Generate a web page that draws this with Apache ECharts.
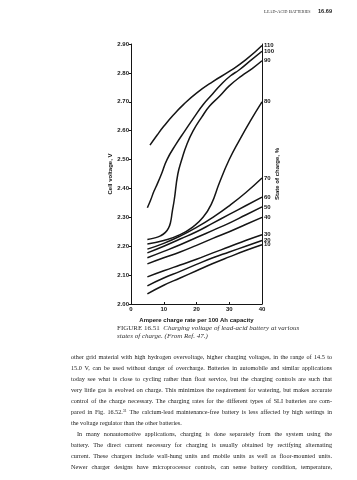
<!DOCTYPE html>
<html>
<head>
<meta charset="utf-8">
<script src="https://cdn.jsdelivr.net/npm/echarts@6/dist/echarts.min.js"></script>
<style>
  html, body { margin: 0; padding: 0; background: #fff; }
  #page { position: relative; width: 357px; height: 480px; overflow: hidden; background: #fff; }
  #chart { position: absolute; left: 0; top: 0; width: 357px; height: 480px; }
  .hdr { position: absolute; top: 9px; font-family: "Liberation Serif", serif; font-size: 5px; color: #333; font-variant: small-caps; white-space: nowrap; }
  .pg { position: absolute; top: 8px; font-family: "Liberation Sans", Arial, sans-serif; font-weight: bold; font-size: 5.6px; color: #222; white-space: nowrap; }
  .cap { position: absolute; left: 117px; font-family: "Liberation Serif", serif; font-size: 7px; color: #333; white-space: nowrap; line-height: 8px; }
  .cap .fig { font-style: normal; font-variant: small-caps; }
  .cap i { font-style: italic; }
  #body { position: absolute; left: 71px; top: 350.5px; width: 261px; font-family: "Liberation Serif", serif; font-size: 6.2px; line-height: 11px; color: #222; }
  #body .ln { white-space: nowrap; height: 11px; }
  #body sup { font-size: 4px; vertical-align: 2px; line-height: 0; }
</style>
</head>
<body>
<div id="page">
  <div id="chart"></div>
  <div class="hdr" style="left:264px;">Lead-Acid Batteries</div>
  <div class="pg" style="left:318px;">16.69</div>
  <div class="cap" style="top:324px;"><span class="fig">FIGURE 16.51</span>&nbsp; <i>Charging voltage of lead-acid battery at various</i></div>
  <div class="cap" style="top:332px;"><i>states of charge. (From Ref. 47.)</i></div>
  <div id="body">
    <div class="ln j">other grid material with high hydrogen overvoltage, higher charging voltages, in the range of 14.5 to</div>
    <div class="ln j">15.0 V, can be used without danger of overcharge. Batteries in automobile and similar applications</div>
    <div class="ln j">today see what is close to cycling rather than float service, but the charging controls are such that</div>
    <div class="ln j">very little gas is evolved on charge. This minimizes the requirement for watering, but makes accurate</div>
    <div class="ln j">control of the charge necessary. The charging rates for the different types of SLI batteries are com-</div>
    <div class="ln j">pared in Fig. 16.52.<sup>31</sup> The calcium-lead maintenance-free battery is less affected by high settings in</div>
    <div class="ln">the voltage regulator than the other batteries.</div>
    <div class="ln j" style="padding-left:6px;">In many nonautomotive applications, charging is done separately from the system using the</div>
    <div class="ln j">battery. The direct current necessary for charging is usually obtained by rectifying alternating</div>
    <div class="ln j">current. These chargers include wall-hung units and mobile units as well as floor-mounted units.</div>
    <div class="ln j">Newer charger designs have microprocessor controls, can sense battery condition, temperature,</div>
  </div>
</div>
<script>
// ---- Data ----
const xTicks = [0, 10, 20, 30, 40];
const voltageMin = 2.0, voltageMax = 2.9;

// common charge-rate grid for the lower curves
const chargeRate = [5, 10, 15, 20, 25, 30, 35, 40];
const soc70 = [2.190, 2.210, 2.235, 2.265, 2.300, 2.340, 2.385, 2.436];
const soc60 = [2.177, 2.200, 2.225, 2.250, 2.280, 2.310, 2.340, 2.370];
const soc50 = [2.160, 2.182, 2.205, 2.230, 2.255, 2.280, 2.308, 2.336];
const soc40 = [2.139, 2.160, 2.180, 2.203, 2.227, 2.250, 2.275, 2.300];
const soc30 = [2.094, 2.115, 2.135, 2.155, 2.177, 2.198, 2.220, 2.240];
const soc20 = [2.063, 2.090, 2.113, 2.137, 2.160, 2.180, 2.200, 2.220];
const soc10 = [2.035, 2.065, 2.090, 2.115, 2.140, 2.163, 2.185, 2.205];

// upper curves with their own charge-rate points
const rate110 = [5.8, 8, 10, 13, 16, 20, 25, 30, 35, 40];
const soc110  = [2.550, 2.585, 2.615, 2.655, 2.690, 2.730, 2.770, 2.805, 2.845, 2.895];
const rate100 = [5, 6, 7, 8, 9.3, 11, 13.8, 16.5, 19.3, 22, 24.9, 27.5, 30.4, 33, 36, 40];
const soc100  = [2.333, 2.360, 2.390, 2.415, 2.450, 2.500, 2.554, 2.600, 2.647, 2.690, 2.727, 2.760, 2.790, 2.810, 2.838, 2.875];
const rate90  = [5, 7, 9, 10.5, 11.5, 12.1, 12.6, 13.2, 14.3, 15.5, 17.1, 19, 21.6, 24, 27.1, 30, 33.8, 37, 40];
const soc90   = [2.223, 2.228, 2.236, 2.248, 2.264, 2.284, 2.320, 2.360, 2.450, 2.500, 2.554, 2.600, 2.647, 2.685, 2.720, 2.755, 2.790, 2.815, 2.842];
const rate80  = [5, 10, 15, 19, 22, 24.5, 27, 30, 33, 36.5, 40];
const soc80   = [2.208, 2.220, 2.240, 2.268, 2.300, 2.345, 2.420, 2.500, 2.565, 2.635, 2.700];

const curves = [
  { name: '110', x: rate110, y: soc110 },
  { name: '100', x: rate100, y: soc100 },
  { name: '90',  x: rate90,  y: soc90 },
  { name: '80',  x: rate80,  y: soc80 },
  { name: '70',  x: chargeRate, y: soc70 },
  { name: '60',  x: chargeRate, y: soc60 },
  { name: '50',  x: chargeRate, y: soc50 },
  { name: '40',  x: chargeRate, y: soc40 },
  { name: '30',  x: chargeRate, y: soc30 },
  { name: '20',  x: chargeRate, y: soc20 },
  { name: '10',  x: chargeRate, y: soc10 }
];

const ink = '#151515';
const tickFont = { fontFamily: 'Liberation Sans, Arial, sans-serif', fontSize: 6, fontWeight: 'bold', color: ink };

const chart = echarts.init(document.getElementById('chart'), null, { renderer: 'canvas' });
chart.setOption({
  animation: false,
  backgroundColor: 'transparent',
  grid: { left: 131, top: 44, width: 131, height: 260, containLabel: false },
  xAxis: {
    type: 'value', min: xTicks[0], max: xTicks[xTicks.length - 1], interval: 10,
    name: 'Ampere charge rate per 100 Ah capacity',
    nameLocation: 'middle', nameGap: 12,
    nameTextStyle: Object.assign({}, tickFont),
    axisLine: { show: true, lineStyle: { color: ink, width: 1 } },
    axisTick: { show: true, inside: true, length: 2, lineStyle: { color: ink } },
    axisLabel: Object.assign({ margin: 2 }, tickFont),
    splitLine: { show: false }
  },
  yAxis: [{
    type: 'value', min: voltageMin, max: voltageMax, interval: 0.1,
    name: 'Cell voltage, V', nameLocation: 'middle', nameGap: 17, nameRotate: 90,
    nameTextStyle: Object.assign({}, tickFont),
    axisLine: { show: true, lineStyle: { color: ink, width: 1 } },
    axisTick: { show: true, length: 2, lineStyle: { color: ink } },
    axisLabel: Object.assign({ margin: 2, formatter: v => v.toFixed(2) }, tickFont),
    splitLine: { show: false }
  }, {
    type: 'value', min: voltageMin, max: voltageMax, interval: 0.1, position: 'right',
    name: 'State of charge, %', nameLocation: 'middle', nameGap: 12, nameRotate: 90,
    nameTextStyle: Object.assign({}, tickFont),
    axisLine: { show: true, lineStyle: { color: ink, width: 1 } },
    axisTick: { show: false }, axisLabel: { show: false }, splitLine: { show: false }
  }],
  series: curves.map(c => ({
    type: 'line', name: c.name, yAxisIndex: 0,
    data: c.x.map((xv, i) => [xv, c.y[i]]),
    showSymbol: false, smooth: 0.5,
    lineStyle: { color: ink, width: 1.5 },
    endLabel: { show: true, formatter: '{a}', distance: 2, fontFamily: 'Liberation Sans, Arial, sans-serif', fontSize: 6, fontWeight: 'bold', color: ink },
    emphasis: { disabled: true }
  }))
});

// justify body lines to the full measure
document.querySelectorAll('#body .ln.j').forEach(el => {
  const target = 261;
  const span = document.createElement('span');
  while (el.firstChild) span.appendChild(el.firstChild);
  el.appendChild(span);
  span.style.whiteSpace = 'nowrap';
  const pad = parseFloat(el.style.paddingLeft || 0);
  const w = span.getBoundingClientRect().width;
  const spaces = (span.textContent.match(/ /g) || []).length;
  if (spaces > 0) span.style.wordSpacing = ((target - pad - w) / spaces) + 'px';
});
</script>
</body>
</html>
